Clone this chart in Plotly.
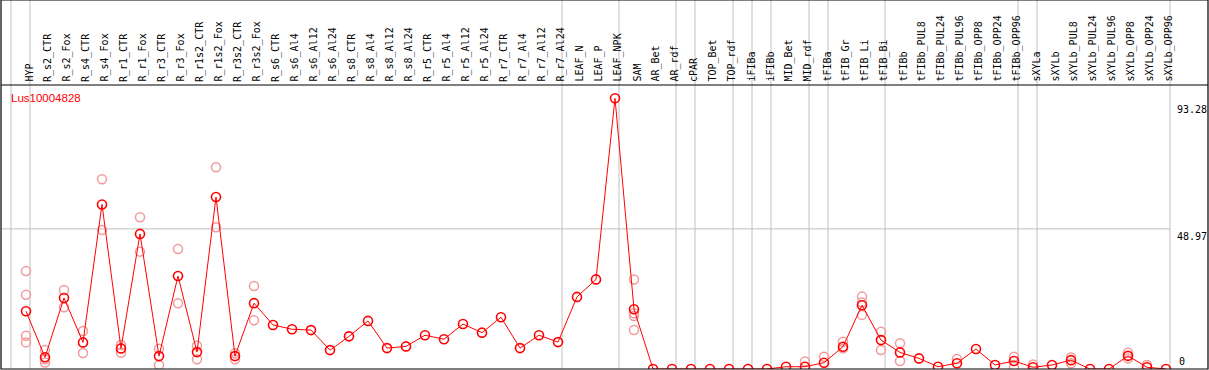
import plotly.graph_objects as go

# ---------------- data ----------------
gene_label = "Lus10004828"

categories = [
    "HYP", "R_s2_CTR", "R_s2_Fox", "R_s4_CTR", "R_s4_Fox", "R_r1_CTR", "R_r1_Fox",
    "R_r3_CTR", "R_r3_Fox", "R_r1s2_CTR", "R_r1s2_Fox", "R_r3s2_CTR", "R_r3s2_Fox",
    "R_s6_CTR", "R_s6_Al4", "R_s6_Al12", "R_s6_Al24", "R_s8_CTR", "R_s8_Al4",
    "R_s8_Al12", "R_s8_Al24", "R_r5_CTR", "R_r5_Al4", "R_r5_Al12", "R_r5_Al24",
    "R_r7_CTR", "R_r7_Al4", "R_r7_Al12", "R_r7_Al24", "LEAF_N", "LEAF_P", "LEAF_NPK",
    "SAM", "AR_Bet", "AR_rdf", "cPAR", "TOP_Bet", "TOP_rdf", "iFIBa", "iFIBb",
    "MID_Bet", "MID_rdf", "tFIBa", "tFIB_Gr", "tFIB_Li", "tFIB_Bi", "tFIBb",
    "tFIBb_PUL8", "tFIBb_PUL24", "tFIBb_PUL96", "tFIBb_OPP8", "tFIBb_OPP24",
    "tFIBb_OPP96", "sXYLa", "sXYLb", "sXYLb_PUL8", "sXYLb_PUL24", "sXYLb_PUL96",
    "sXYLb_OPP8", "sXYLb_OPP24", "sXYLb_OPP96",
]

mean_values = [
    20.2, 4.1, 24.8, 9.3, 57.5, 7.2, 47.2, 4.5, 32.5, 5.9, 60.1, 4.5, 23.0,
    15.4, 13.9, 13.6, 6.6, 11.4, 16.8, 7.3, 7.9, 11.8, 10.4, 15.7, 12.7,
    18.1, 7.3, 11.8, 9.4, 25.2, 31.3, 94.6,
    20.9, 0.0, 0.0, 0.0, 0.0, 0.0, 0.0, 0.0,
    0.8, 0.8, 2.2, 7.8, 22.3, 10.1, 5.8,
    3.7, 0.8, 2.0, 7.0, 1.4, 2.8, 0.6, 1.4, 3.1, 0.0, 0.0, 4.6, 0.6, 0.0,
]

# individual replicate values (category -> list)
replicate_values = {
    "HYP": [34.2, 25.9, 11.6, 9.3],
    "R_s2_CTR": [6.6, 2.3, 3.4],
    "R_s2_Fox": [27.6, 21.6],
    "R_s4_CTR": [13.3, 5.6],
    "R_s4_Fox": [66.3, 48.6],
    "R_r1_CTR": [8.4, 5.7],
    "R_r1_Fox": [53.0, 41.0],
    "R_r3_CTR": [7.1, 1.4],
    "R_r3_Fox": [41.9, 23.0],
    "R_r1s2_CTR": [8.1, 3.4],
    "R_r1s2_Fox": [70.5, 49.5],
    "R_r3s2_CTR": [5.5, 3.4],
    "R_r3s2_Fox": [29.0, 17.0],
    "SAM": [31.3, 19.5, 18.5, 13.6],
    "MID_rdf": [2.6],
    "tFIBa": [4.3],
    "tFIB_Gr": [9.5, 7.2],
    "tFIB_Li": [25.3, 23.2, 18.9],
    "tFIB_Bi": [13.0, 6.6],
    "tFIBb": [9.0, 2.8],
    "tFIBb_PUL96": [3.5],
    "tFIBb_OPP96": [4.3, 0.8],
    "sXYLa": [1.6],
    "sXYLb_PUL8": [4.0, 2.0],
    "sXYLb_OPP8": [5.7, 3.7],
    "sXYLb_OPP24": [1.4],
}

# group boundaries: separator drawn just after these category indices
group_ends = [-1, 0, 28, 31, 34, 35, 37, 38, 39, 41, 42, 45, 52, 53, 60]

# right-hand value labels
scale_labels = [93.28, 48.97, 0]

# ---------------- figure ----------------
W, H = 1209, 370
M_L, M_R, M_T, M_B = 1, 1, 85, 1
plot_w = W - M_L - M_R
plot_h = H - M_T - M_B
header_frac = M_T / plot_h

x_idx = list(range(len(categories)))
rep_x, rep_y = [], []
for i, c in enumerate(categories):
    for v in replicate_values.get(c, []):
        rep_x.append(i)
        rep_y.append(v)

fig = go.Figure()
fig.add_trace(go.Scatter(
    x=rep_x, y=rep_y, mode="markers",
    marker=dict(symbol="circle-open", size=9, color="#F29A9A",
                line=dict(width=1.5, color="#F29A9A")),
    hoverinfo="skip", showlegend=False, cliponaxis=True,
))
fig.add_trace(go.Scatter(
    x=x_idx, y=mean_values, mode="lines+markers",
    line=dict(color="#FF0000", width=1),
    marker=dict(symbol="circle-open", size=9, color="#FF0000",
                line=dict(width=1.6, color="#FF0000")),
    showlegend=False, cliponaxis=True,
))

step_px = 19.0
first_px = 26.0
x_lo = (M_L - first_px) / step_px
x_hi = (W - M_R - first_px) / step_px
sep_off = 4.0 / step_px

shapes = []
# group separators (full height incl. header)
for g in group_ends:
    shapes.append(dict(type="line", xref="x", yref="paper",
                       x0=g + sep_off, x1=g + sep_off, y0=0, y1=1 + header_frac,
                       line=dict(color="#C0C0C0", width=1), layer="below"))
# middle gridline
shapes.append(dict(type="line", xref="x", yref="y",
                   x0=x_lo, x1=group_ends[-1] + sep_off,
                   y0=scale_labels[1], y1=scale_labels[1],
                   line=dict(color="#C0C0C0", width=1), layer="below"))
# frame
shapes.append(dict(type="rect", xref="paper", yref="paper",
                   x0=0, x1=1, y0=0, y1=1 + header_frac,
                   line=dict(color="black", width=1.2)))
shapes.append(dict(type="line", xref="paper", yref="paper",
                   x0=0, x1=1, y0=1, y1=1,
                   line=dict(color="black", width=1.2)))

annotations = [
    dict(text=gene_label, xref="paper", yref="paper", x=(10 - M_L) / plot_w,
         y=1 - 13 / plot_h, xanchor="left", yanchor="middle", showarrow=False,
         font=dict(family="Liberation Sans", size=11.5, color="#FF0000"), borderpad=0),
]
# rotated category labels in the header
for i, c in enumerate(categories):
    annotations.append(dict(
        text=c, xref="x", yref="paper", x=i, y=1 + 2 / plot_h,
        xanchor="center", yanchor="bottom", textangle=-90, showarrow=False,
        borderpad=0, xshift=2.5,
        font=dict(family="DejaVu Sans Mono", size=10, color="black")))
for v in scale_labels:
    annotations.append(dict(
        text=("%g" % v) if v != 0 else "0", xref="paper", yref="y", x=1, y=v,
        xanchor="right", yanchor=("bottom" if v == 0 else "top"),
        xshift=(-22 if v == 0 else 0), yshift=(1 if v == 0 else -1),
        showarrow=False, borderpad=0,
        font=dict(family="DejaVu Sans Mono", size=10, color="black")))

y_top = plot_h / 2.862

fig.update_layout(
    width=W, height=H,
    margin=dict(l=M_L, r=M_R, t=M_T, b=M_B, pad=0),
    paper_bgcolor="white", plot_bgcolor="white",
    xaxis=dict(range=[x_lo, x_hi], showticklabels=False,
               ticks="", showgrid=False, zeroline=False, showline=False,
               fixedrange=True),
    yaxis=dict(range=[0, y_top], showticklabels=False, showgrid=False,
               zeroline=False, showline=False, ticks="", fixedrange=True),
    shapes=shapes, annotations=annotations,
    showlegend=False,
)

fig.write_html(
    "out.html",
    config={"displayModeBar": False},
    post_script="document.body.style.margin='0';document.body.style.padding='0';",
)
